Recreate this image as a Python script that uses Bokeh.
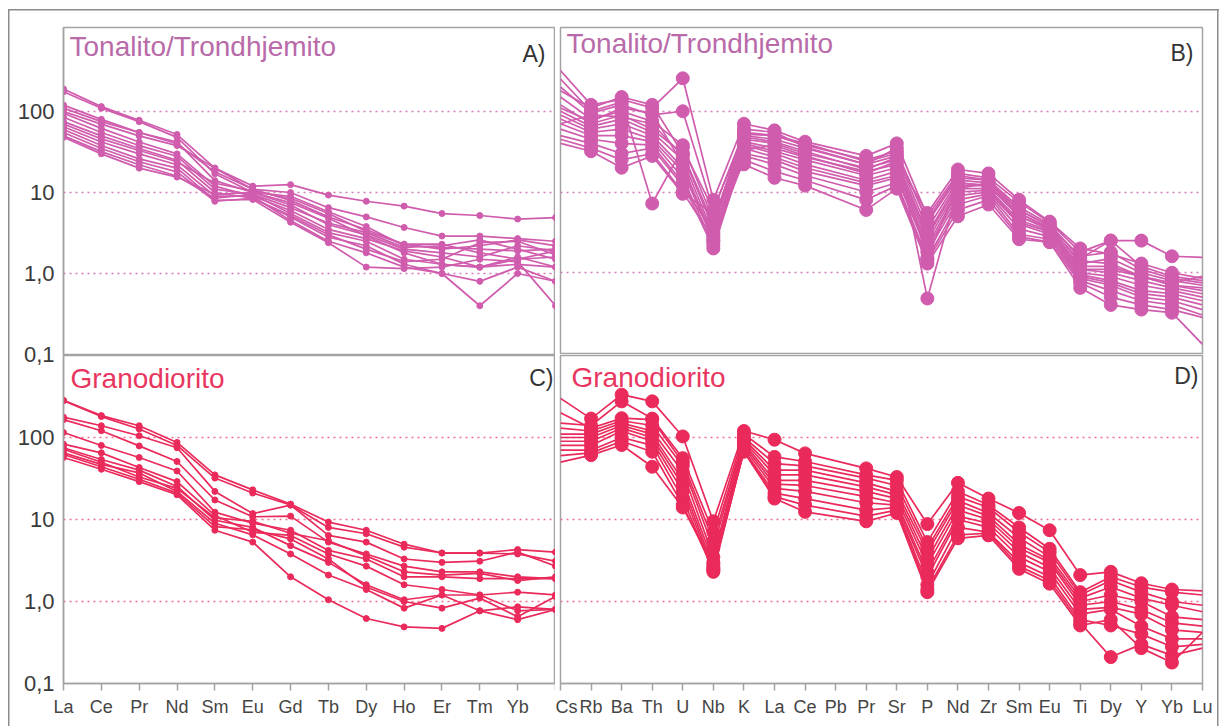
from bokeh.plotting import figure
from bokeh.layouts import column, row
from bokeh.models import Range1d, FixedTicker, Label, Grid, InlineStyleSheet
from bokeh.embed import file_html
from bokeh.resources import INLINE

# ---------------- data ----------------
REE = ["La", "Ce", "Pr", "Nd", "Sm", "Eu", "Gd", "Tb", "Dy", "Ho", "Er", "Tm", "Yb", "Lu"]
SPIDER = ["Cs", "Rb", "Ba", "Th", "U", "Nb", "K", "La", "Ce", "Pb", "Pr", "Sr", "P",
          "Nd", "Zr", "Sm", "Eu", "Ti", "Dy", "Y", "Yb", "Lu"]

Y_TICKS = [0.1, 1, 10, 100]
Y_TICK_LABELS = ["0,1", "1,0", "10", "100"]

# Tonalito/Trondhjemito - REE (chondrite normalised)
tonalito_ree = [
    [100, 70, 50, 38, 20, 12, 12.5, 9.3, 7.8, 6.8, 5.5, 5.2, 4.7, 4.9],
    [120, 80, 55, 40, 18, 11, 10, 6.5, 5.0, 3.7, 2.9, 2.9, 2.7, 2.5],
    [190, 115, 78, 52, 20, 11, 8, 5, 3.5, 2.3, 2.0, 2.2, 2.6, 2.2],
    [175, 110, 75, 48, 17, 10, 7, 4, 3, 2.0, 1.8, 1.6, 2.2, 1.9],
    [110, 75, 55, 42, 14, 10, 9, 5.8, 3.8, 2.2, 2.1, 2.0, 1.9, 2.0],
    [95, 62, 42, 30, 12, 9, 6, 3.5, 2.7, 1.9, 1.6, 1.2, 1.6, 1.2],
    [85, 55, 38, 28, 11, 9.5, 5.5, 3.2, 2.5, 1.5, 1.3, 1.2, 1.5, 1.6],
    [75, 50, 35, 25, 10, 8.5, 5, 2.8, 2.2, 1.3, 1.0, 0.8, 1.2, 0.8],
    [65, 42, 30, 22, 9, 9, 4.5, 2.5, 1.8, 1.2, 1.0, 0.40, 1.0, 0.8],
    [60, 38, 26, 20, 8, 8.2, 4.3, 2.4, 1.2, 1.15, 1.2, 1.5, 1.4, 0.4],
    [55, 35, 24, 18, 7.8, 8.5, 5.2, 3.0, 2.0, 1.4, 1.5, 2.4, 2.5, 1.7],
    [50, 32, 22, 16, 8.5, 9.5, 6.5, 4.2, 3.2, 2.1, 2.2, 2.6, 2.0, 1.5],
    [48, 30, 20, 15.5, 9.5, 10, 7.5, 4.8, 2.9, 1.8, 1.3, 1.2, 1.3, 1.2],
    [70, 46, 33, 24, 13, 10.5, 8.5, 5.5, 3.3, 2.3, 2.3, 1.8, 1.5, 1.9],
]

# Tonalito/Trondhjemito - multi-element (primitive mantle normalised); None = not analysed
tonalito_spider = [
    [320, 120, 140, 110, 256, 8.0, 70, 58, 42, None, 28, 40, 5.0, 17, 15, 7.5, 4.2, 1.8, 2.5, 2.5, 1.6, 1.55],
    [200, 95, 120, 90, 100, 6.0, 55, 50, 38, None, 25, 32, 4.2, 15, 14, 6.5, 4.0, 1.5, 2.5, 1.2, 0.9, 0.8],
    [150, 80, 100, 75, 38, 4.5, 50, 45, 35, None, 22, 28, 3.5, 14, 13, 6.0, 3.8, 1.3, 1.5, 1.0, 0.8, 0.7],
    [120, 70, 90, 60, 30, 3.5, 45, 40, 30, None, 20, 25, 3.0, 13, 12, 5.5, 3.5, 1.2, 1.2, 0.9, 0.7, 0.6],
    [100, 65, 80, 55, 25, 3.0, 42, 35, 27, None, 18, 22, 2.8, 12, 12, 5.0, 3.4, 1.1, 1.0, 0.8, 0.65, 0.55],
    [90, 60, 70, 50, 20, 2.8, 40, 32, 25, None, 16, 20, 2.5, 11, 11, 4.5, 3.3, 1.0, 0.9, 0.7, 0.6, 0.5],
    [80, 55, 60, 45, 18, 2.5, 38, 30, 22, None, 14, 18, 2.2, 10, 10.5, 4.2, 3.2, 0.95, 0.8, 0.6, 0.55, 0.45],
    [70, 50, 50, 42, 15, 2.2, 35, 27, 20, None, 13, 16, 2.0, 9, 10, 4.0, 3.0, 0.9, 0.75, 0.55, 0.5, 0.4],
    [60, 45, 40, 38, 13, 2.0, 30, 25, 18, None, 12, 15, 1.8, 8, 9.5, 3.5, 2.8, 0.85, 0.7, 0.5, 0.45, 0.35],
    [50, 40, 30, 35, 12, 3.2, 28, 22, 16, None, 10, 13, 1.5, 7, 9, 3.0, 2.6, 0.8, 0.6, 0.45, 0.4, 0.3],
    [45, 35, 25, 30, 10, 2.6, 25, 18, 14, None, 8, 12, 1.4, 6, 8, 2.8, 2.4, 0.75, 0.5, 0.4, 0.35, 0.28],
    [40, 32, 20, 28, 9.5, 5.5, 22, 15, 12, None, 6, 11, 1.3, 5, 7, 2.6, 2.4, 0.65, 0.4, 0.35, 0.32, 0.13],
    [250, 100, 130, 7.2, 35, 6.0, 52, 50, 40, None, 24, 30, 4.5, 16, 14, 6.0, 3.8, 1.6, 1.8, 1.1, 0.85, 0.75],
    [180, 110, 150, 120, 30, 4.0, 60, 55, 36, None, 22, 35, 0.48, 11, 13, 5.5, 3.6, 1.4, 1.3, 0.9, 0.7, 0.65],
    [70, 90, 85, 70, 28, 3.8, 48, 42, 32, None, 19, 27, 1.5, 13, 12, 5.0, 3.5, 1.1, 1.1, 0.9, 0.75, 0.9],
    [110, 75, 110, 95, 22, 2.4, 33, 38, 28, None, 17, 24, 5.5, 19, 17, 8.0, 4.3, 2.0, 1.7, 1.3, 1.0, 0.85],
]

# Granodiorito - REE
grano_ree = [
    [284, 185, 139, 87, 35, 23, 15.4, 9.3, 7.4, 5.0, 3.9, 3.9, 4.3, 4.0],
    [280, 180, 127, 80, 32, 21, 15, 8.0, 6.7, 4.6, 3.9, 3.9, 3.8, 3.1],
    [177, 139, 105, 75, 22, 11.8, 15, 6.4, 5.3, 3.3, 3.0, 3.1, 4.0, 2.7],
    [165, 121, 79, 51, 17.3, 10.8, 11, 5.3, 3.8, 2.7, 2.3, 2.3, 2.0, 1.9],
    [115, 80, 57, 39, 12.3, 9.0, 7.4, 4.2, 3.3, 2.0, 2.0, 1.9, 1.9, 1.9],
    [83, 65, 43, 29, 11.2, 7.0, 6.4, 3.8, 2.7, 1.6, 1.4, 1.2, 1.3, 1.2],
    [75, 54, 40, 25.3, 9.8, 8.0, 4.8, 3.0, 1.6, 1.05, 1.2, 1.2, 0.77, 0.8],
    [65, 47, 37, 22, 9.0, 6.5, 3.8, 2.1, 1.4, 0.83, 1.2, 0.77, 0.86, 0.8],
    [57, 41, 29, 20, 7.4, 5.3, 2.0, 1.05, 0.62, 0.49, 0.47, 0.77, 0.6, 0.8],
    [72, 50, 33, 24, 10.5, 9.5, 6.8, 5.5, 3.6, 2.3, 2.1, 2.2, 1.8, 2.0],
    [62, 44, 31, 21, 8.2, 7.5, 5.8, 3.3, 1.5, 1.0, 0.83, 1.1, 0.65, 1.15],
]

# Granodiorito - multi-element
grano_spider = [
    [300, 170, 333, 276, 103, 9.5, 120, 94, 64, None, 42, 33, 8.8, 28, 18, 12, 7.4, 2.1, 2.3, 1.67, 1.4, 1.35],
    [150, 140, 276, 170, 56, 7.0, 110, 58, 51, None, 35, 30, 5.3, 22, 15, 8.0, 4.4, 1.3, 2.0, 1.5, 1.3, 1.2],
    [200, 130, 172, 165, 50, 5.5, 100, 48, 45, None, 32, 26, 4.5, 19, 14, 7.0, 4.0, 1.2, 1.8, 1.3, 1.0, 0.9],
    [130, 120, 160, 140, 45, 4.5, 95, 40, 40, None, 28, 22, 4.0, 17, 12, 6.0, 3.5, 1.1, 1.5, 1.1, 0.9, 0.75],
    [110, 110, 150, 120, 38, 3.5, 90, 35, 35, None, 25, 20, 3.3, 15, 11, 5.0, 3.2, 1.0, 1.2, 1.0, 0.65, 0.6],
    [100, 100, 140, 110, 30, 3.0, 85, 30, 30, None, 22, 18, 2.8, 13, 10, 4.5, 3.0, 0.9, 1.0, 0.8, 0.55, 0.5],
    [90, 90, 130, 100, 26, 2.6, 80, 27, 26, None, 19, 16, 2.3, 11, 9, 4.0, 2.6, 0.8, 0.85, 0.7, 0.45, 0.42],
    [80, 80, 120, 90, 22, 2.4, 75, 24, 22, None, 16, 15, 2.0, 10, 8, 3.5, 2.3, 0.7, 0.8, 0.5, 0.35, 0.35],
    [70, 70, 100, 80, 18, 2.3, 70, 21, 18, None, 13, 14, 1.6, 8, 7, 3.0, 2.0, 0.6, 0.51, 0.4, 0.28, 0.3],
    [60, 65, 90, 67, 15, 2.5, 68, 19, 15, None, 11, 13, 1.4, 6.5, 6.8, 2.7, 1.8, 0.55, 0.21, 0.3, 0.22, 0.27],
    [50, 61, 81, 44, 14, 2.8, 67, 18, 12.4, None, 9.5, 12, 1.3, 5.9, 6.4, 2.5, 1.65, 0.51, 0.6, 0.27, 0.18, 0.42],
]

TITLE_T = "Tonalito/Trondhjemito"
TITLE_G = "Granodiorito"

# ---------------- style ----------------
FONT = "Liberation Sans"
FRAME_GREY = "#a3a3a3"
T_LINE = "#d05cae"
T_TITLE = "#b86aa9"
T_GRID = "#d27bb9"
G_LINE = "#ea2a5b"
G_TITLE = "#e8365f"
G_GRID = "#ec7090"
YLABEL_COLOR = "#3a3a3a"


def make_panel(elements, samples, frame_w, frame_h, borders, y_top, show_x, show_y,
               line_color, grid_color, title, title_color, title_xy, letter, letter_xy,
               marker_size, edge_markers, hidden_labels=()):
    left, right, top, bottom = borders
    p = figure(frame_width=frame_w, frame_height=frame_h,
               x_range=Range1d(0, len(elements) - 1), y_range=Range1d(0.1, y_top),
               y_axis_type="log",
               x_axis_location="below" if show_x else None,
               y_axis_location="left" if show_y else None,
               output_backend="svg", toolbar_location=None,
               min_border_left=left, min_border_right=right,
               min_border_top=top, min_border_bottom=bottom)
    p.border_fill_color = None
    p.background_fill_color = "white"
    p.outline_line_color = FRAME_GREY
    p.outline_line_width = 1.5
    p.grid.visible = False

    p.add_layout(Grid(dimension=1, ticker=FixedTicker(ticks=Y_TICKS[1:]),
                      grid_line_color=grid_color, grid_line_width=1.6,
                      grid_line_dash="2 4"))

    if show_y:
        ax = p.yaxis[0]
        ax.ticker = FixedTicker(ticks=Y_TICKS, minor_ticks=[])
        ax.major_label_overrides = {t: s for t, s in zip(Y_TICKS, Y_TICK_LABELS)}
        ax.major_tick_out = 0
        ax.major_tick_in = 0
        ax.major_tick_line_color = None
        ax.minor_tick_line_color = None
        ax.axis_line_color = FRAME_GREY
        ax.axis_line_width = 1.5
        ax.major_label_standoff = 9
        ax.major_label_text_font = FONT
        ax.major_label_text_font_size = "22px"
        ax.major_label_text_color = YLABEL_COLOR
    if show_x:
        ax = p.xaxis[0]
        ticks = list(range(len(elements)))
        ax.ticker = FixedTicker(ticks=ticks, minor_ticks=[])
        overrides = {i: e for i, e in enumerate(elements)}
        for i in hidden_labels:
            overrides[i] = ""
        ax.major_label_overrides = overrides
        ax.major_tick_out = 7
        ax.major_tick_in = 0
        ax.major_tick_line_color = FRAME_GREY
        ax.major_tick_line_width = 1.5
        ax.minor_tick_line_color = None
        ax.axis_line_color = FRAME_GREY
        ax.axis_line_width = 1.5
        ax.major_label_standoff = 6
        ax.major_label_text_font = FONT
        ax.major_label_text_font_size = "18px"
        ax.major_label_text_color = "#454545"

    n = len(elements)
    for s in samples:
        xs = [i for i, v in enumerate(s) if v is not None]
        ys = [v for v in s if v is not None]
        p.line(xs, ys, line_color=line_color, line_width=1.7)
        if edge_markers:
            mx, my = xs, ys
        else:
            mx = [x for x in xs if 0 < x < n - 1]
            my = [y for x, y in zip(xs, ys) if 0 < x < n - 1]
        p.scatter(mx, my, marker="circle", size=marker_size,
                  fill_color=line_color, line_color=line_color)

    p.add_layout(Label(x=title_xy[0], y=title_xy[1], x_units="screen", y_units="screen",
                       text=title, text_font=FONT, text_font_size="28px",
                       text_color=title_color, text_align="left",
                       text_baseline="alphabetic"))
    p.add_layout(Label(x=letter_xy[0], y=letter_xy[1], x_units="screen", y_units="screen",
                       text=letter, text_font=FONT, text_font_size="23px",
                       text_color="#333333", text_align="right",
                       text_baseline="alphabetic"))
    return p


# Panel A gets a taller bottom border so that its lowest tick label ("0,1"),
# which sits on the seam between the panels, is not clipped; the lower row is
# pulled up by the same amount so the frames keep their positions.
SEAM = 13
pa = make_panel(REE, tonalito_ree, 492, 327, (63, 0, 26, 1 + SEAM), 1090, False, True,
                T_LINE, T_GRID, TITLE_T, T_TITLE, (6, 308), "A)", (482, 301), 6, True)
pb = make_panel(SPIDER, tonalito_spider, 642, 326, (5, 18, 27, 1), 1090, False, False,
                T_LINE, T_GRID, TITLE_T, T_TITLE, (6, 310), "B)", (633, 301), 13, False)
pc = make_panel(REE, grano_ree, 492, 328, (63, 0, 1, 43), 1000, True, True,
                G_LINE, G_GRID, TITLE_G, G_TITLE, (7, 305), "C)", (490, 306), 6, True,
                hidden_labels=(len(REE) - 1,))
pd = make_panel(SPIDER, grano_spider, 642, 328, (5, 18, 1, 43), 1000, True, False,
                G_LINE, G_GRID, TITLE_G, G_TITLE, (11, 306), "D)", (638, 308), 13, False)

css = """
:host {
  background-color: white;
  background-image: linear-gradient(#8c8c8c, #8c8c8c), linear-gradient(#8c8c8c, #8c8c8c),
                    linear-gradient(#8c8c8c, #8c8c8c);
  background-size: 1.5px 740px, 1211px 1.5px, 1.5px 740px;
  background-position: 8px 9px, 8px 9px, 1217px 9px;
  background-repeat: no-repeat;
}
"""

top_row = row(pa, pb, spacing=0)
bottom_row = row(pc, pd, spacing=0, margin=(-SEAM, 0, 0, 0))
layout = column(top_row, bottom_row, spacing=0,
                stylesheets=[InlineStyleSheet(css=css)])

open("out.html", "w").write(file_html(layout, INLINE, title="Diagramas"))
